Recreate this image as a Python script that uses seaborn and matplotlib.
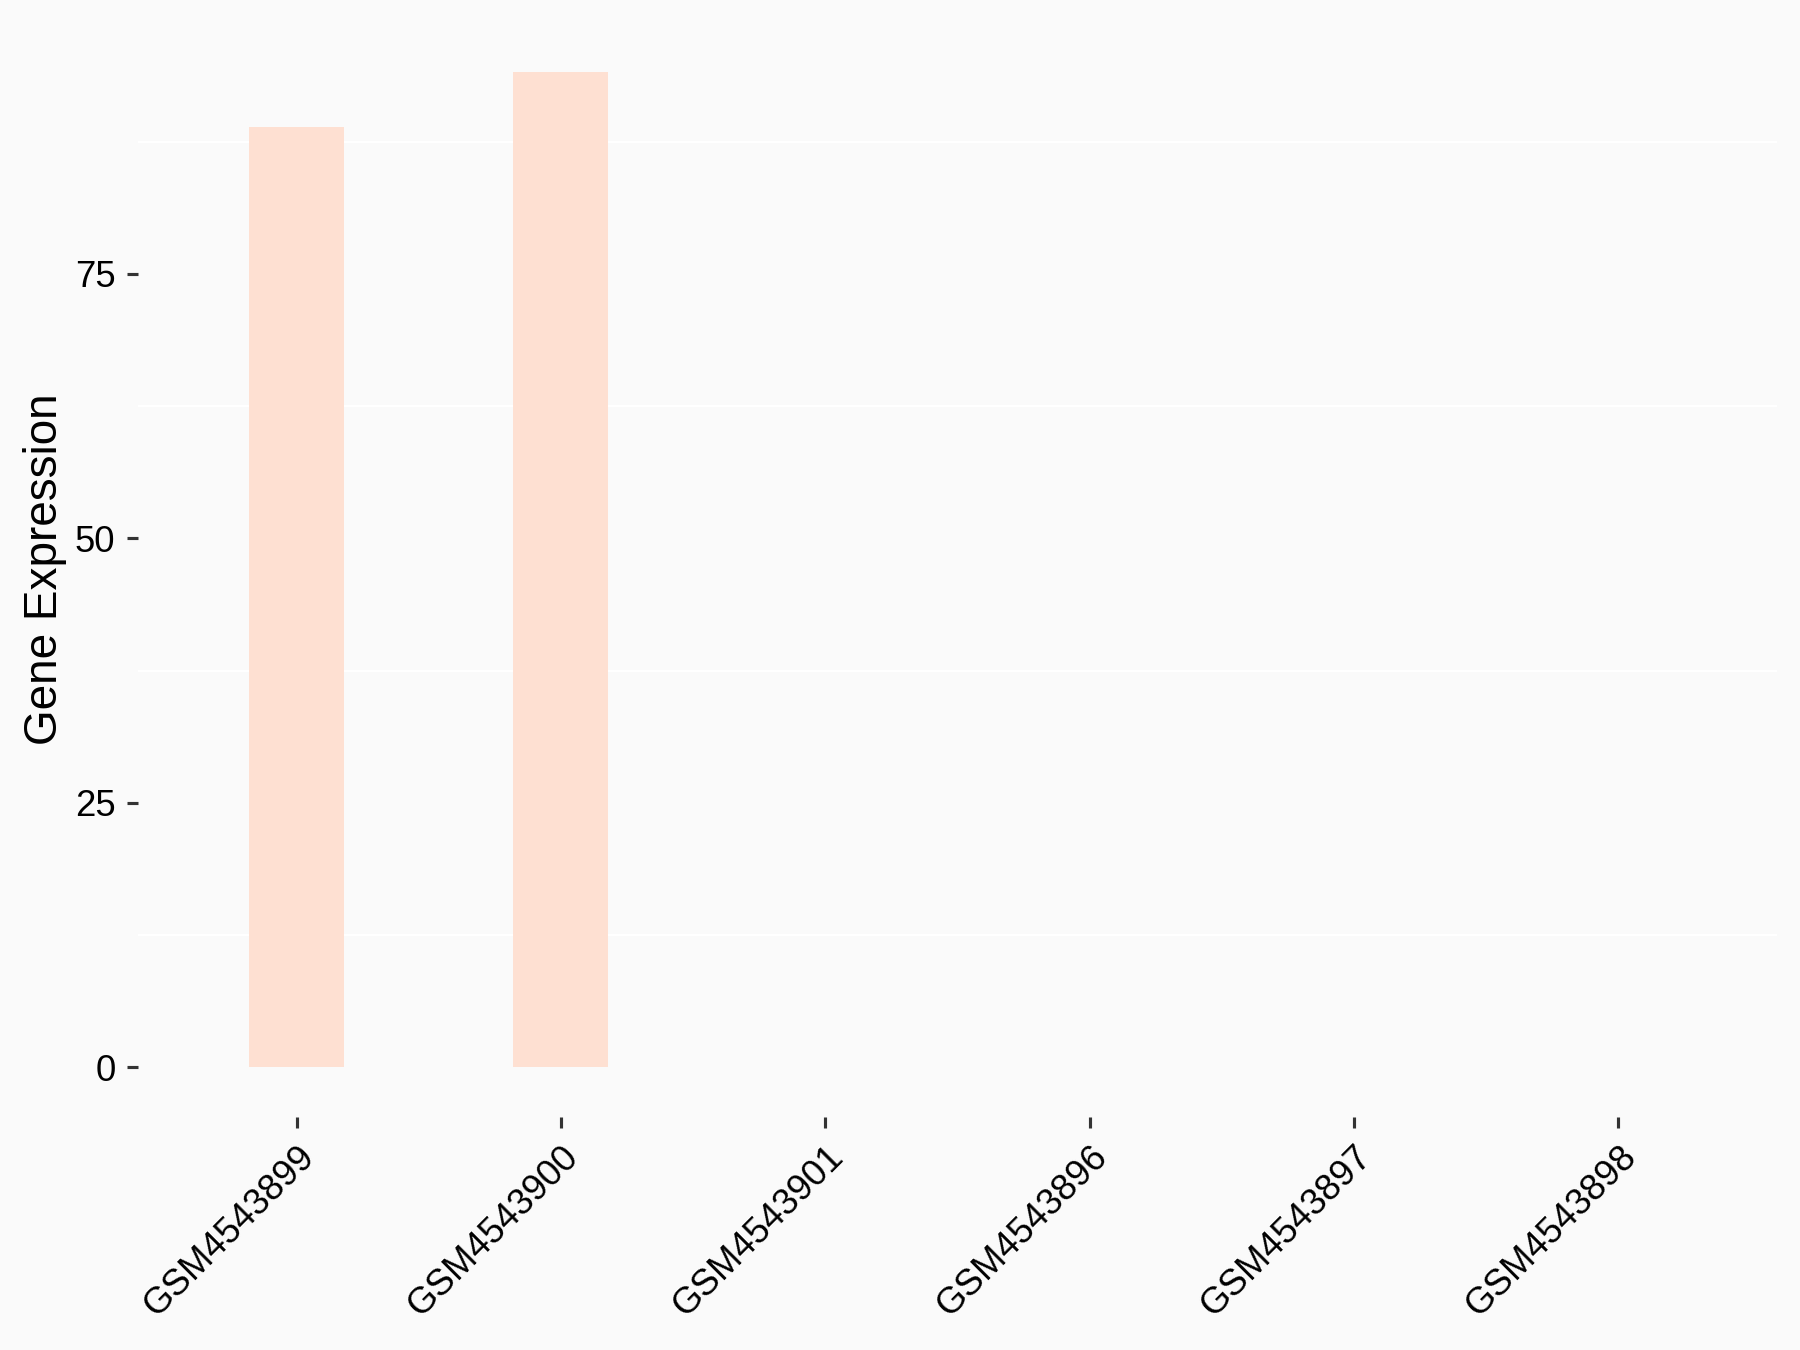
import matplotlib
matplotlib.use("Agg")
import matplotlib.pyplot as plt
import seaborn as sns
import pandas as pd

samples = ["GSM4543899", "GSM4543900", "GSM4543901", "GSM4543896", "GSM4543897", "GSM4543898"]
values = [88.9, 94.1, 0.0, 0.0, 0.0, 0.0]
y_ticks = [0, 25, 50, 75]
y_minor = [12.5, 37.5, 62.5, 87.5]
bar_color = "#FEE0D2"
bg = "#FAFAFA"

sns.set_style("white")
plt.rcParams["font.family"] = ["Liberation Sans", "DejaVu Sans"]

df = pd.DataFrame({"sample": samples, "expr": values})

fig = plt.figure(figsize=(12, 9), dpi=150, facecolor=bg)
ax = fig.add_axes([0.0766, 0.1726, 0.9106, 0.8111])
ax.set_facecolor(bg)

sns.barplot(data=df, x="sample", y="expr", order=samples, color=bar_color,
            saturation=1, width=0.36, errorbar=None, ax=ax, zorder=3,
            linewidth=0, edgecolor="none")

ax.set_xlim(-0.6, 5.6)
ax.set_ylim(-4.7, 98.8)
ax.set_yticks(y_ticks)
ax.set_yticklabels([str(t) for t in y_ticks])
ax.set_yticks(y_minor, minor=True)
ax.set_axisbelow(True)
ax.grid(False)
ax.grid(which="minor", axis="y", color="white", linewidth=1.0, zorder=0)

for s in ax.spines.values():
    s.set_visible(False)

ax.tick_params(axis="x", which="major", bottom=True)
ax.tick_params(axis="y", which="major", left=True)
ax.tick_params(axis="both", which="major", length=5.3, width=1.5, color="#333333",
               labelsize=17.5, labelcolor="black", pad=5.5, direction="out")
ax.tick_params(axis="y", which="minor", length=0, left=False)

ax.set_xticks(range(len(samples)))
ax.set_xticklabels(samples, rotation=45, ha="right", va="top", rotation_mode="anchor")

ax.set_xlabel("")
ax.set_ylabel("Gene Expression", fontsize=22, color="black")
ax.yaxis.set_label_coords(-0.043, 0.5)

fig.savefig("out.png", dpi=150, facecolor=bg)
